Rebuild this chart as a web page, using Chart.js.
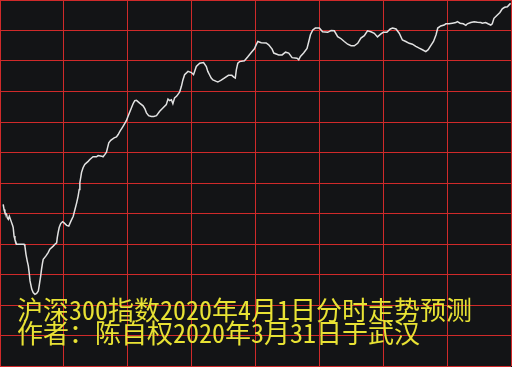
<!DOCTYPE html>
<html>
<head>
<meta charset="utf-8">
<script src="https://cdn.jsdelivr.net/npm/chart.js@4"></script>
<style>
  html, body { margin: 0; padding: 0; background: #131416; }
  #c { display: block; }
</style>
</head>
<body>
<canvas id="c" width="512" height="367"></canvas>
<script>
// Minutes since the open (9:30), 240-minute trading day
const minutes = [
  1.5,1.9,2.3,3.1,3.4,3.9,4.4,5.2,6.0,6.2,6.6,7.0,7.8,9.4,11.3,11.7,12.2,12.8,13.3,13.7,
  14.1,14.9,15.6,16.4,17.2,18.0,18.4,19.1,19.5,20.0,20.3,21.6,22.6,23.4,25.0,25.8,26.6,26.9,27.3,27.8,
  28.5,29.4,30.0,31.3,32.3,33.3,34.4,35.2,36.0,36.7,37.2,37.5,38.0,38.3,39.0,39.8,40.6,41.4,42.2,43.0,
  43.7,45.3,46.1,47.7,48.4,49.2,50.0,50.5,51.1,52.0,53.6,54.7,55.5,56.3,57.8,59.4,60.1,60.9,61.7,62.5,
  63.3,64.1,65.6,67.2,68.0,68.8,69.8,71.1,72.2,73.5,75.0,76.5,78.1,78.9,79.7,80.5,81.2,82.0,83.0,84.4,
  85.2,85.9,86.7,88.3,89.9,90.9,92.2,93.8,95.6,96.9,97.6,98.4,99.2,100.0,101.6,102.3,103.9,105.5,107.3,108.9,
  109.8,110.5,111.0,111.7,112.5,114.8,116.4,118.0,119.5,120.3,121.1,122.7,125.0,126.2,127.8,128.6,130.9,132.5,134.1,135.6,
  137.2,139.5,140.3,141.1,142.6,144.2,145.0,145.8,146.9,148.1,150.0,151.5,153.9,155.5,157.0,158.6,160.2,161.7,163.3,164.9,
  166.4,168.0,169.5,171.1,172.6,174.2,175.8,177.3,178.9,180.0,181.7,183.3,184.4,186.0,187.5,189.0,190.6,192.2,193.7,195.3,
  196.9,198.4,200.0,201.1,202.0,203.6,204.8,205.6,207.0,208.6,209.4,210.9,212.5,214.1,214.8,216.1,217.6,218.8,219.5,221.1,
  222.7,224.2,225.8,226.5,228.1,229.2,230.5,231.2,232.0,233.6,234.8,235.9,237.0,238.3,239.1,239.8
];
// Predicted index level at each minute
const values = [
  3693.0,3691.3,3690.3,3689.7,3688.6,3688.1,3689.1,3687.5,3685.9,3685.4,3682.6,3681.5,3679.9,3679.9,3679.9,3679.3,3676.6,3674.4,3672.8,3670.6,
  3667.9,3665.2,3664.1,3663.5,3663.8,3664.6,3666.3,3669.5,3671.7,3673.9,3675.0,3676.1,3677.2,3678.3,3679.3,3679.9,3680.4,3682.1,3683.7,3685.4,
  3686.7,3687.3,3687.0,3686.1,3685.9,3687.5,3689.1,3691.3,3693.5,3695.7,3697.9,3700.1,3702.2,3703.5,3705.0,3706.1,3706.6,3707.1,3707.7,3708.2,
  3708.6,3708.6,3709.0,3708.8,3708.6,3709.3,3710.1,3711.5,3713.2,3714.0,3714.8,3715.1,3715.9,3716.9,3718.6,3720.5,3721.8,3723.2,3724.6,3726.0,
  3727.0,3727.1,3726.2,3725.3,3724.4,3723.0,3722.1,3721.8,3721.8,3722.1,3723.5,3724.6,3725.7,3727.5,3727.0,3727.3,3726.0,3727.9,3728.5,3729.9,
  3731.7,3733.8,3735.5,3736.6,3736.2,3735.5,3738.2,3739.3,3739.5,3738.2,3736.6,3735.5,3734.4,3733.8,3733.3,3733.1,3733.7,3734.5,3735.3,3735.3,
  3734.7,3734.4,3737.1,3739.3,3739.8,3740.1,3741.4,3742.8,3744.0,3745.3,3746.4,3746.0,3745.9,3745.3,3743.9,3742.6,3742.0,3742.0,3742.9,3742.6,
  3741.1,3740.9,3740.4,3741.5,3742.6,3744.1,3746.3,3748.6,3750.2,3750.8,3750.8,3749.6,3749.4,3750.0,3749.9,3748.0,3747.3,3746.4,3745.5,3745.0,
  3745.0,3745.8,3747.5,3748.3,3749.9,3749.6,3749.1,3747.9,3748.9,3749.4,3749.4,3750.5,3750.8,3750.5,3749.1,3746.9,3746.4,3745.8,3745.5,3744.8,
  3744.2,3743.7,3743.1,3743.7,3744.7,3746.4,3748.6,3750.8,3751.5,3751.8,3752.2,3752.2,3752.4,3752.6,3752.9,3752.4,3752.2,3751.7,3752.2,3752.6,
  3752.9,3752.7,3752.6,3752.4,3752.6,3752.2,3751.8,3752.2,3754.0,3755.1,3755.9,3757.1,3757.6,3757.8,3758.4,3758.9
];
// Grid positions (no labels shown on the chart)
const xGridTicks = [0, 30, 60, 90, 120, 150, 180, 210, 240];
const yGridTicks = [3640, 3650, 3660, 3670, 3680, 3690, 3700, 3710, 3720, 3730, 3740, 3750, 3760];
const captionLines = [
  '沪深300指数2020年4月1日分时走势预测',
  '作者：陈自权2020年3月31日于武汉'
];

const captionPlugin = {
  id: 'caption',
  beforeDraw(chart) {
    const ctx = chart.ctx;
    ctx.save();
    ctx.fillStyle = '#131416';
    ctx.fillRect(0, 0, chart.width, chart.height);
    ctx.restore();
  },
  afterDraw(chart) {
    const ctx = chart.ctx;
    ctx.save();
    ctx.font = '26px "Noto Sans Mono CJK SC", "Noto Sans CJK SC", sans-serif';
    ctx.fillStyle = '#e8e234';
    ctx.textBaseline = 'alphabetic';
    ctx.textAlign = 'left';
    ctx.fillText(captionLines[0], 17, 320);
    ctx.fillText(captionLines[1], 17, 343);
    ctx.restore();
  }
};

const points = minutes.map((m, i) => ({ x: m, y: values[i] }));

new Chart(document.getElementById('c'), {
  type: 'line',
  data: {
    datasets: [{
      data: points,
      borderColor: '#e2e2e2',
      borderWidth: 1.5,
      pointRadius: 0,
      tension: 0,
      fill: false
    }]
  },
  options: {
    responsive: false,
    animation: false,
    layout: { padding: { left: 0, top: 0, right: 1, bottom: 1 } },
    plugins: { legend: { display: false }, tooltip: { enabled: false } },
    scales: {
      x: {
        type: 'linear',
        min: 0, max: 240,
        afterBuildTicks: (s) => { s.ticks = xGridTicks.map(v => ({ value: v })); },
        ticks: { display: false, padding: 0 },
        grid: { color: '#d02a2a', lineWidth: 1, drawTicks: false },
        border: { display: false }
      },
      y: {
        type: 'linear',
        min: 3640, max: 3760,
        afterBuildTicks: (s) => { s.ticks = yGridTicks.map(v => ({ value: v })); },
        ticks: { display: false, padding: 0 },
        grid: { color: '#d02a2a', lineWidth: 1, drawTicks: false },
        border: { display: false }
      }
    }
  },
  plugins: [captionPlugin]
});
</script>
</body>
</html>
